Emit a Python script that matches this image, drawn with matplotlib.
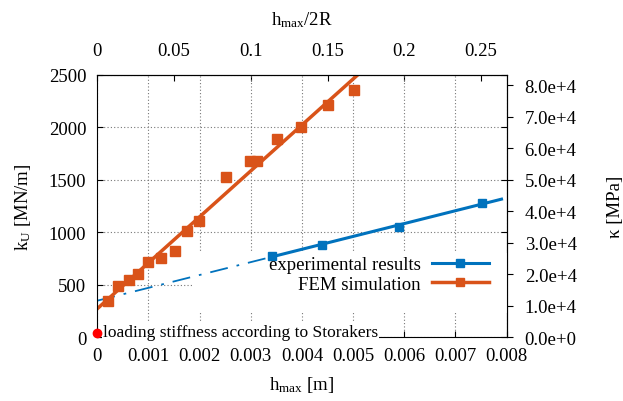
import numpy as np
import matplotlib
matplotlib.use("Agg")
import matplotlib.pyplot as plt
from matplotlib.patches import Rectangle
from matplotlib.lines import Line2D
from matplotlib.ticker import FuncFormatter

plt.rcParams['font.family'] = ['Liberation Serif', 'DejaVu Serif']
plt.rcParams['mathtext.fontset'] = 'custom'
plt.rcParams['mathtext.rm'] = 'Liberation Serif'
plt.rcParams['mathtext.it'] = 'Liberation Serif:italic'
plt.rcParams['font.size'] = 13.5

exp_h = [0.00342, 0.00439, 0.00590, 0.00752]
exp_k = [777, 880, 1049, 1281]

fem_h = [0.00020, 0.00041, 0.00061, 0.00080, 0.00100, 0.00125, 0.00151, 0.00176,
         0.00199, 0.00251, 0.00299, 0.00313, 0.00351, 0.00399, 0.00451, 0.00502]
fem_k = [341, 485, 542, 599, 720, 755, 819, 1013,
         1109, 1527, 1680, 1680, 1890, 1998, 2215, 2358]

storakers_h = [0.0]
storakers_k = [35]

two_R = 0.03  # m, sphere diameter used for the secondary axes

blue = '#0072BD'
orange = '#D95319'

fig = plt.figure(figsize=(6.23, 4.02), dpi=100)
ax = fig.add_axes([0.1562, 0.159, 0.657, 0.6527])

# linear fits
pe = np.polyfit(exp_h, exp_k, 1)
pf = np.polyfit(fem_h, fem_k, 1)

xe_dash = np.array([0.0, exp_h[0]])
xe_solid = np.array([exp_h[0], 0.0079])
ax.plot(xe_dash, np.polyval(pe, xe_dash), color=blue, lw=1.3,
        linestyle=(0, (10, 5, 1.5, 5)), zorder=2)
ax.plot(xe_solid, np.polyval(pe, xe_solid), color=blue, lw=2.2, zorder=2)
ax.plot(exp_h, exp_k, 's', color=blue, ms=5.5, zorder=3)

xf = np.array([0.0, 0.0055])
ax.plot(xf, np.polyval(pf, xf), color=orange, lw=2.5, zorder=2)
ax.plot(fem_h, fem_k, 's', color=orange, ms=6.5, zorder=3)

ax.plot(storakers_h, storakers_k, 'o', color='red', ms=6, clip_on=False, zorder=5)
ax.text(0.00011, 48, 'loading stiffness according to Storakers', fontsize=12.5,
        va='center', ha='left', zorder=4,
        bbox=dict(facecolor='white', edgecolor='none', pad=1))

ax.set_xlim(0, 0.008)
ax.set_ylim(0, 2500)
ax.set_xticks(np.arange(0, 0.0081, 0.001))
ax.set_xticklabels(['0'] + ['%g' % v for v in np.arange(0.001, 0.0081, 0.001)])
ax.set_yticks(np.arange(0, 2501, 500))
ax.grid(True, linestyle=(0, (1, 2)), color='#777777', lw=0.8)
ax.set_axisbelow(True)
ax.tick_params(axis='x', direction='in', top=False, length=4, pad=7)
ax.tick_params(axis='y', direction='in', right=True, length=4, pad=8)

# white key area hiding the grid
ax.add_patch(Rectangle((0.235, 0.09), 0.77, 0.23, transform=ax.transAxes,
                       facecolor='white', edgecolor='none', zorder=1))

ax.set_xlabel(r'h$_{\rm max}$ [m]', labelpad=7)
ax.set_ylabel(r'k$_{\rm U}$ [MN/m]', labelpad=11)

# secondary axes
top = ax.secondary_xaxis('top', functions=(lambda h: h / two_R, lambda r: r * two_R))
top.set_xticks([0, 0.05, 0.1, 0.15, 0.2, 0.25])
top.set_xticklabels(['0', '0.05', '0.1', '0.15', '0.2', '0.25'])
top.tick_params(direction='in', length=4, pad=11)
top.set_xlabel(r'h$_{\rm max}$/2R', labelpad=13)

right = ax.secondary_yaxis('right', functions=(lambda k: k / two_R, lambda c: c * two_R))
right.set_yticks(np.arange(0, 80001, 10000))
right.yaxis.set_major_formatter(FuncFormatter(
    lambda v, p: '0.0e+0' if v == 0 else '%.1fe+4' % (v / 1e4)))
right.tick_params(direction='out', length=4, pad=9)
right.set_ylabel(r'κ [MPa]', labelpad=22)

# legend
handles = [Line2D([], [], color=blue, lw=2.2, marker='s', ms=6),
           Line2D([], [], color=orange, lw=2.5, marker='s', ms=6)]
ax.legend(handles, ['experimental results', 'FEM simulation'], loc='upper right',
          bbox_to_anchor=(0.965, 0.322), frameon=False, markerfirst=False,
          handlelength=3.0, borderaxespad=0, borderpad=0.2, labelspacing=0.12,
          handletextpad=0.6)

fig.savefig('out.png', dpi=100)
